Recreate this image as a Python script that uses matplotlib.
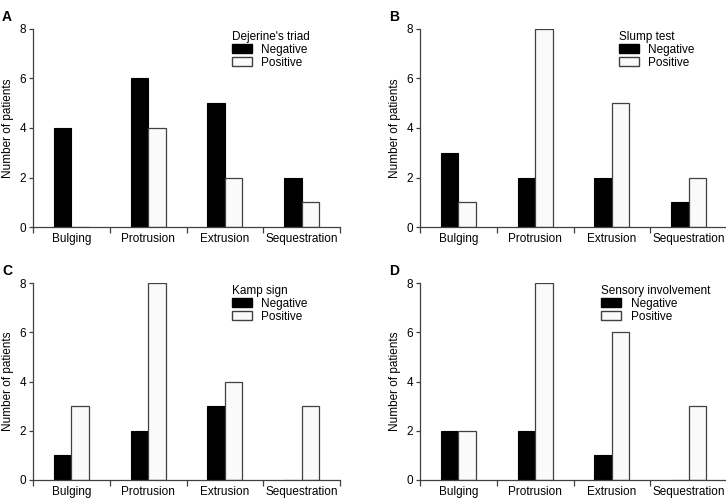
#!/usr/bin/env python3

# Four-panel grouped bar chart: test results by herniation type.

import matplotlib
matplotlib.use("Agg")
import matplotlib.pyplot as plt
from matplotlib.patches import Patch
import numpy as np

CATEGORIES = ["Bulging", "Protrusion", "Extrusion", "Sequestration"]
PANELS = ["A", "B", "C", "D"]
TESTS = ["Dejerine's triad", "Slump test", "Kamp sign", "Sensory involvement"]
NEGATIVE = [
    [4, 6, 5, 2],
    [3, 2, 2, 1],
    [1, 2, 3, 0],
    [2, 2, 1, 0],
]
POSITIVE = [
    [0, 4, 2, 1],
    [1, 8, 5, 2],
    [3, 8, 4, 3],
    [2, 8, 6, 3],
]

plt.rcParams["font.family"] = ["Liberation Sans", "DejaVu Sans"]
plt.rcParams["font.size"] = 8.5

SPINE = "#404040"
POS_FILL = "#fafafa"

# Axes rectangles in figure fraction: left, bottom, width, height
RECTS = [
    [0.0455, 0.546, 0.423, 0.396],
    [0.5785, 0.546, 0.423, 0.396],
    [0.0455, 0.040, 0.423, 0.394],
    [0.5785, 0.040, 0.423, 0.394],
]
# Legend anchor x (axes fraction) for each panel
LEGEND_X = [0.62, 0.62, 0.62, 0.563]


def draw_panel(fig, rect, letter, test, neg, pos, legend_x):
    ax = fig.add_axes(rect)
    x = np.arange(len(CATEGORIES)) + 0.5
    width = 0.228

    ax.bar(x - width / 2, neg, width, color="black", edgecolor="black",
           linewidth=0.8)
    ax.bar(x + width / 2, pos, width, color=POS_FILL, edgecolor=SPINE,
           linewidth=0.9)

    ax.set_xlim(0, len(CATEGORIES))
    ax.set_ylim(0, 8)
    ax.set_yticks([0, 2, 4, 6, 8])
    ax.set_xticks(x)
    ax.set_xticklabels(CATEGORIES)
    ax.set_xticks(np.arange(len(CATEGORIES) + 1), minor=True)
    ax.tick_params(axis="x", which="major", length=0, pad=4)
    ax.tick_params(axis="x", which="minor", length=4, width=0.9,
                   color=SPINE, direction="out")
    ax.tick_params(axis="y", length=3, width=0.9, color=SPINE, pad=2)
    ax.spines["top"].set_visible(False)
    ax.spines["right"].set_visible(False)
    for side in ["left", "bottom"]:
        ax.spines[side].set_color(SPINE)
        ax.spines[side].set_linewidth(0.9)
    ax.set_ylabel("Number of patients", labelpad=4)

    handles = [
        Patch(facecolor="black", edgecolor="black", label="Negative"),
        Patch(facecolor=POS_FILL, edgecolor=SPINE, label="Positive"),
    ]
    ax.legend(handles=handles, title=test, loc="upper left",
              bbox_to_anchor=(legend_x, 1.03), frameon=False,
              alignment="left", handlelength=1.7, handleheight=0.8,
              labelspacing=0.05, handletextpad=0.8, borderpad=0.2,
              title_fontsize=8.5, fontsize=8.5)

    ax.text(-0.085, 1.06, letter, transform=ax.transAxes,
            fontsize=10, fontweight="bold", ha="center", va="center")
    return ax


def main():
    fig = plt.figure(figsize=(7.26, 5.0), dpi=100)
    for idx in range(len(PANELS)):
        draw_panel(fig, RECTS[idx], PANELS[idx], TESTS[idx],
                   NEGATIVE[idx], POSITIVE[idx], LEGEND_X[idx])
    fig.savefig("out.png", dpi=100)


if __name__ == "__main__":
    main()
